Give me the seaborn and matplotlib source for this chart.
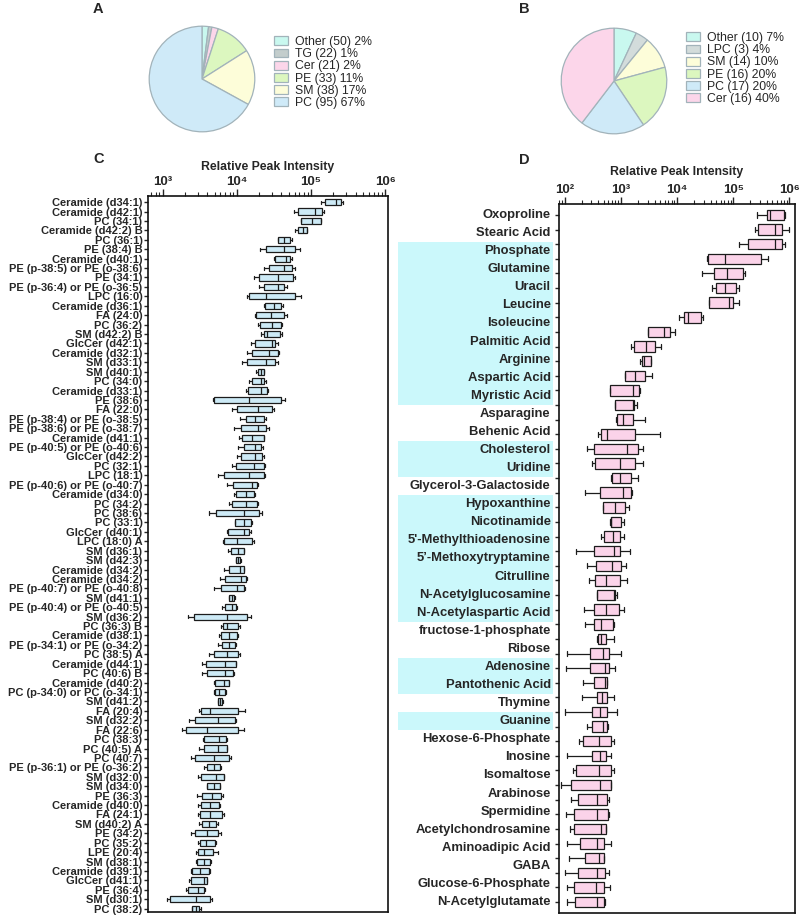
import numpy as np
import pandas as pd
import matplotlib
matplotlib.use("Agg")
import matplotlib.pyplot as plt
from matplotlib.patches import Rectangle
import seaborn as sns

sns.set_style("ticks")
plt.rcParams['font.family'] = ['Liberation Sans', 'DejaVu Sans']

# ---- pie data ----
pie_a_labels = ["Other (50) 2%", "TG (22) 1%", "Cer (21) 2%", "PE (33) 11%", "SM (38) 17%", "PC (95) 67%"]
pie_a_values = [2, 1, 2, 11, 17, 67]
pie_a_colors = ["#c9f8ef", "#c3cdcc", "#fcd6ea", "#dcf7bf", "#fdfdd9", "#cfeaf8"]

pie_b_labels = ["Other (10) 7%", "LPC (3) 4%", "SM (14) 10%", "PE (16) 20%", "PC (17) 20%", "Cer (16) 40%"]
pie_b_values = [7, 4, 10, 20, 20, 40]
pie_b_colors = ["#c9f8ef", "#d3dcdb", "#fdfdd9", "#dcf7bf", "#cfeaf8", "#fcd6ea"]

# ---- panel C: lipids, log10 of relative peak intensity ----
names_c = [
    "Ceramide (d34:1)", "Ceramide (d42:1)", "PC (34:1)", "Ceramide (d42:2) B", "PC (36:1)",
    "PE (38:4) B", "Ceramide (d40:1)", "PE (p-38:5) or PE (o-38:6)", "PE (34:1)", "PE (p-36:4) or PE (o-36:5)",
    "LPC (16:0)", "Ceramide (d36:1)", "FA (24:0)", "PC (36:2)", "SM (d42:2) B",
    "GlcCer (d42:1)", "Ceramide (d32:1)", "SM (d33:1)", "SM (d40:1)", "PC (34:0)",
    "Ceramide (d33:1)", "PE (38:6)", "FA (22:0)", "PE (p-38:4) or PE (o-38:5)", "PE (p-38:6) or PE (o-38:7)",
    "Ceramide (d41:1)", "PE (p-40:5) or PE (o-40:6)", "GlcCer (d42:2)", "PC (32:1)", "LPC (18:1)",
    "PE (p-40:6) or PE (o-40:7)", "Ceramide (d34:0)", "PC (34:2)", "PC (38:6)", "PC (33:1)",
    "GlcCer (d40:1)", "LPC (18:0) A", "SM (d36:1)", "SM (d42:3)", "Ceramide (d34:2)",
    "Ceramide (d34:2)", "PE (p-40:7) or PE (o-40:8)", "SM (d41:1)", "PE (p-40:4) or PE (o-40:5)", "SM (d36:2)",
    "PC (36:3) B", "Ceramide (d38:1)", "PE (p-34:1) or PE (o-34:2)", "PC (38:5) A", "Ceramide (d44:1)",
    "PC (40:6) B", "Ceramide (d40:2)", "PC (p-34:0) or PC (o-34:1)", "SM (d41:2)", "FA (20:4)",
    "SM (d32:2)", "FA (22:6)", "PC (38:3)", "PC (40:5) A", "PC (40:7)",
    "PE (p-36:1) or PE (o-36:2)", "SM (d32:0)", "SM (d34:0)", "PE (36:3)", "Ceramide (d40:0)",
    "FA (24:1)", "SM (d40:2) A", "PE (34:2)", "PC (35:2)", "LPE (20:4)",
    "SM (d38:1)", "Ceramide (d39:1)", "GlcCer (d41:1)", "PE (36:4)", "SM (d30:1)",
    "PC (38:2)",
]
c_lo = [5.14, 4.77, 4.86, 4.78, 4.55, 4.31, 4.50, 4.37, 4.23, 4.30,
        4.14, 4.37, 4.25, 4.28, 4.33, 4.19, 4.14, 4.07, 4.26, 4.16,
        4.12, 3.68, 3.94, 4.04, 3.96, 4.03, 4.02, 4.00, 3.93, 3.75,
        3.86, 3.96, 3.90, 3.62, 3.97, 3.87, 3.81, 3.88, 3.99, 3.83,
        3.77, 3.69, 3.89, 3.80, 3.34, 3.78, 3.76, 3.75, 3.63, 3.53,
        3.53, 3.69, 3.69, 3.74, 3.49, 3.36, 3.26, 3.54, 3.49, 3.38,
        3.56, 3.48, 3.59, 3.46, 3.47, 3.47, 3.49, 3.38, 3.48, 3.45,
        3.45, 3.38, 3.36, 3.31, 3.05, 3.39]
c_q1 = [5.19, 4.83, 4.87, 4.83, 4.56, 4.39, 4.52, 4.43, 4.30, 4.36,
        4.16, 4.38, 4.26, 4.31, 4.36, 4.25, 4.20, 4.14, 4.29, 4.20,
        4.15, 3.69, 4.00, 4.12, 4.05, 4.07, 4.10, 4.05, 3.99, 3.82,
        3.95, 3.99, 3.93, 3.72, 3.98, 3.88, 3.82, 3.92, 3.99, 3.90,
        3.84, 3.79, 3.90, 3.84, 3.42, 3.81, 3.78, 3.80, 3.69, 3.58,
        3.59, 3.71, 3.70, 3.75, 3.52, 3.43, 3.31, 3.56, 3.55, 3.44,
        3.59, 3.52, 3.60, 3.53, 3.51, 3.50, 3.53, 3.44, 3.50, 3.47,
        3.46, 3.40, 3.38, 3.34, 3.10, 3.40]
c_med = [5.34, 5.06, 5.02, 4.89, 4.63, 4.63, 4.66, 4.63, 4.56, 4.55,
         4.39, 4.50, 4.46, 4.48, 4.41, 4.47, 4.43, 4.39, 4.32, 4.32,
         4.32, 4.17, 4.28, 4.25, 4.28, 4.21, 4.24, 4.24, 4.23, 4.17,
         4.21, 4.12, 4.12, 4.10, 4.10, 4.10, 4.00, 4.02, 4.01, 4.04,
         4.05, 4.00, 3.93, 3.94, 3.86, 3.87, 3.90, 3.90, 3.87, 3.84,
         3.84, 3.82, 3.76, 3.77, 3.64, 3.75, 3.60, 3.76, 3.75, 3.69,
         3.69, 3.72, 3.69, 3.67, 3.64, 3.64, 3.62, 3.60, 3.58, 3.55,
         3.55, 3.50, 3.55, 3.48, 3.45, 3.45]
c_q3 = [5.41, 5.15, 5.13, 4.95, 4.72, 4.79, 4.72, 4.75, 4.76, 4.63,
        4.79, 4.60, 4.64, 4.60, 4.58, 4.52, 4.55, 4.51, 4.37, 4.37,
        4.41, 4.60, 4.48, 4.37, 4.39, 4.37, 4.33, 4.34, 4.37, 4.37,
        4.27, 4.23, 4.27, 4.30, 4.19, 4.17, 4.20, 4.09, 4.04, 4.09,
        4.12, 4.09, 3.96, 3.99, 4.14, 4.01, 4.00, 3.98, 4.02, 3.99,
        3.95, 3.89, 3.84, 3.80, 4.02, 3.97, 4.02, 3.85, 3.86, 3.89,
        3.77, 3.82, 3.77, 3.79, 3.76, 3.80, 3.72, 3.75, 3.71, 3.68,
        3.64, 3.62, 3.59, 3.55, 3.64, 3.49]
c_hi = [5.43, 5.17, 5.14, 4.95, 4.74, 4.85, 4.74, 4.78, 4.79, 4.68,
        4.86, 4.62, 4.68, 4.61, 4.61, 4.55, 4.57, 4.55, 4.37, 4.39,
        4.42, 4.65, 4.50, 4.39, 4.43, 4.37, 4.35, 4.36, 4.38, 4.38,
        4.28, 4.24, 4.29, 4.34, 4.20, 4.19, 4.23, 4.10, 4.05, 4.10,
        4.13, 4.11, 3.98, 4.00, 4.19, 4.04, 4.01, 3.99, 4.04, 3.99,
        3.96, 3.90, 3.85, 3.81, 4.11, 3.99, 4.10, 3.86, 3.87, 3.92,
        3.78, 3.83, 3.77, 3.81, 3.77, 3.82, 3.74, 3.78, 3.72, 3.74,
        3.65, 3.64, 3.60, 3.57, 3.66, 3.51]

# ---- panel D: metabolites (48 boxes, 39 labels in the original figure) ----
names_d = [
    "Oxoproline", "Stearic Acid", "Phosphate", "Glutamine", "Uracil", "Leucine", "Isoleucine",
    "Palmitic Acid", "Arginine", "Aspartic Acid", "Myristic Acid", "Asparagine", "Behenic Acid",
    "Cholesterol", "Uridine", "Glycerol-3-Galactoside", "Hypoxanthine", "Nicotinamide",
    "5'-Methylthioadenosine", "5\u2019-Methoxytryptamine", "Citrulline", "N-Acetylglucosamine",
    "N-Acetylaspartic Acid", "fructose-1-phosphate", "Ribose", "Adenosine", "Pantothenic Acid",
    "Thymine", "Guanine", "Hexose-6-Phosphate", "Inosine", "Isomaltose", "Arabinose",
    "Spermidine", "Acetylchondrosamine", "Aminoadipic Acid", "GABA", "Glucose-6-Phosphate",
    "N-Acetylglutamate",
]
highlight_d = [(2, 10), (13, 14), (16, 22), (25, 26), (28, 28)]
d_lo = [5.42, 5.39, 5.11, 4.53, 4.44, 4.62, 4.57, 4.04, 3.49, 3.19,
        3.34, 3.07, 2.80, 2.89, 2.92, 2.60, 2.39, 2.48, 2.83, 2.37,
        2.68, 2.80, 2.65, 2.21, 2.40, 2.43, 2.58, 2.34, 2.37, 2.57,
        2.05, 2.03, 2.32, 2.31, 2.00, 2.40, 2.25, 2.05, 2.15, 1.94,
        2.12, 2.03, 2.10, 2.05, 2.07, 2.00, 2.05, 2.05]
d_q1 = [5.60, 5.44, 5.26, 4.56, 4.66, 4.69, 4.57, 4.13, 3.49, 3.24,
        3.38, 3.07, 2.80, 2.90, 2.93, 2.65, 2.52, 2.54, 2.85, 2.63,
        2.68, 2.82, 2.70, 2.52, 2.55, 2.54, 2.58, 2.52, 2.52, 2.60,
        2.46, 2.46, 2.52, 2.57, 2.49, 2.49, 2.33, 2.49, 2.21, 2.12,
        2.23, 2.17, 2.17, 2.28, 2.37, 2.23, 2.17, 2.19]
d_med = [5.66, 5.74, 5.74, 4.86, 4.89, 4.86, 4.93, 4.19, 3.77, 3.44,
         3.42, 3.25, 3.22, 3.22, 3.04, 2.76, 3.11, 2.99, 2.98, 3.04,
         2.89, 2.83, 2.86, 2.88, 2.85, 2.74, 2.88, 2.73, 2.65, 2.65,
         2.68, 2.71, 2.71, 2.67, 2.63, 2.68, 2.61, 2.63, 2.61, 2.63,
         2.58, 2.58, 2.65, 2.57, 2.61, 2.58, 2.55, 2.57]
d_q3 = [5.90, 5.86, 5.87, 5.50, 5.17, 5.05, 4.99, 4.42, 3.88, 3.60,
        3.53, 3.43, 3.33, 3.24, 3.22, 3.26, 3.31, 3.26, 3.19, 3.18,
        3.07, 3.00, 2.99, 2.99, 3.01, 2.99, 2.90, 2.97, 2.86, 2.73,
        2.79, 2.79, 2.76, 2.76, 2.76, 2.76, 2.83, 2.73, 2.82, 2.83,
        2.76, 2.77, 2.73, 2.70, 2.70, 2.71, 2.70, 2.70]
d_hi = [5.92, 5.99, 5.92, 5.62, 5.21, 5.11, 5.10, 4.47, 3.96, 3.71,
        3.54, 3.55, 3.35, 3.28, 3.43, 3.70, 3.40, 3.39, 3.31, 3.20,
        3.14, 3.05, 3.05, 3.16, 3.09, 3.11, 2.94, 3.05, 2.88, 2.88,
        3.00, 2.89, 2.76, 2.88, 2.94, 2.77, 2.88, 2.82, 2.88, 2.83,
        2.79, 2.79, 2.74, 2.83, 2.70, 2.79, 2.80, 2.71]


def long_table(lo, q1, med, q3, hi):
    # five points per row -> quartiles are exact, whiskers at min/max
    rows = []
    for i, stats in enumerate(zip(lo, q1, med, q3, hi)):
        for v in stats:
            rows.append({"row": i, "value": 10 ** v})
    return pd.DataFrame(rows)


df_c = long_table(c_lo, c_q1, c_med, c_q3, c_hi)
df_d = long_table(d_lo, d_q1, d_med, d_q3, d_hi)

W, H = 800, 917
fig = plt.figure(figsize=(W / 100, H / 100), dpi=100)


def px_axes(x0, y0, x1, y1):
    return fig.add_axes([x0 / W, 1 - y1 / H, (x1 - x0) / W, (y1 - y0) / H])


def draw_pie(ax, values, colors, labels, leg_xy):
    wedges, _ = ax.pie(values, colors=colors, startangle=90, counterclock=False,
                       wedgeprops=dict(edgecolor="#a2b3ba", linewidth=0.9))
    ax.set_aspect("equal")
    fig.legend(wedges, labels, loc="upper left",
               bbox_to_anchor=(leg_xy[0] / W, 1 - leg_xy[1] / H),
               frameon=False, fontsize=8.8, labelspacing=0.02, handlelength=1.15,
               handleheight=0.75, handletextpad=0.55, borderpad=0, borderaxespad=0)


ax_a = px_axes(136, 13, 268, 145)
draw_pie(ax_a, pie_a_values, pie_a_colors, pie_a_labels, (274, 36))
ax_b = px_axes(548, 15, 680, 147)
draw_pie(ax_b, pie_b_values, pie_b_colors, pie_b_labels, (686, 32))

for letter, (x, y) in {"A": (93, 2), "B": (519, 2), "C": (93, 152), "D": (519, 153)}.items():
    fig.text(x / W, 1 - y / H, letter, fontsize=10.5, fontweight="bold", va="top")


def style_box_axes(ax, xticks, xlabels, xlim, labelpad):
    ax.set_xscale("log")
    ax.set_xlim(*xlim)
    ax.xaxis.tick_top()
    ax.xaxis.set_label_position("top")
    ax.set_xticks(xticks)
    ax.set_xticklabels(xlabels, fontsize=9.5, fontweight="bold")
    ax.set_xlabel("Relative Peak Intensity", fontsize=8.8, fontweight="bold", labelpad=labelpad)
    ax.set_ylabel("")
    ax.tick_params(axis="x", which="major", length=5, width=1, pad=1)
    ax.tick_params(axis="x", which="minor", length=3, width=0.8)
    ax.tick_params(axis="y", length=3, width=1, pad=1)
    for s in ax.spines.values():
        s.set_visible(True)
        s.set_linewidth(1.2)
        s.set_color("#111111")


# ---- panel C ----
ax_c = px_axes(148, 196, 388, 912)
sns.boxplot(data=df_c, x="value", y="row", orient="h", order=list(range(len(names_c))),
            whis=(0, 100), color="#cdeaf6", saturation=1, linecolor="#1c1c1c",
            linewidth=0.9, width=0.65, fliersize=0, ax=ax_c)
style_box_axes(ax_c, [1e3, 1e4, 1e5, 1e6], ["10\u00b3", "10\u2074", "10\u2075", "10\u2076"],
               (10 ** 2.8, 10 ** 6.04), 4)
ax_c.set_yticks(range(len(names_c)))
ax_c.set_yticklabels(names_c, fontsize=8.0, fontweight="bold")
ax_c.set_ylim(len(names_c) - 0.65, -0.65)

# ---- panel D ----
ax_d = px_axes(559, 204, 795, 913)
n_box = len(d_lo)
sns.boxplot(data=df_d, x="value", y="row", orient="h", order=list(range(n_box)),
            whis=(0, 100), color="#fbd3e9", saturation=1, linecolor="#1c1c1c",
            linewidth=0.9, width=0.72, fliersize=0, ax=ax_d)
style_box_axes(ax_d, [1e2, 1e3, 1e4, 1e5, 1e6],
               ["10\u00b2", "10\u00b3", "10\u2074", "10\u2075", "10\u2076"],
               (10 ** 1.9, 10 ** 6.1), 6)
ax_d.set_yticks(range(n_box))
ax_d.set_yticklabels([])
ax_d.set_ylim(n_box - 0.25, -0.75)

label_pos = np.linspace(0, n_box - 1, len(names_d))
step = label_pos[1] - label_pos[0]
trans = ax_d.get_yaxis_transform()
for start, end in highlight_d:
    y0 = label_pos[start] - step / 2
    ax_d.add_patch(Rectangle((-0.682, y0), 0.657, (end - start + 1) * step,
                             transform=trans, clip_on=False, facecolor="#cbf8fb",
                             edgecolor="none", zorder=0))
for pos, name in zip(label_pos, names_d):
    ax_d.text(-0.035, pos, name, transform=trans, ha="right", va="center",
              fontsize=9.4, fontweight="bold")

fig.savefig("out.png", dpi=100)
